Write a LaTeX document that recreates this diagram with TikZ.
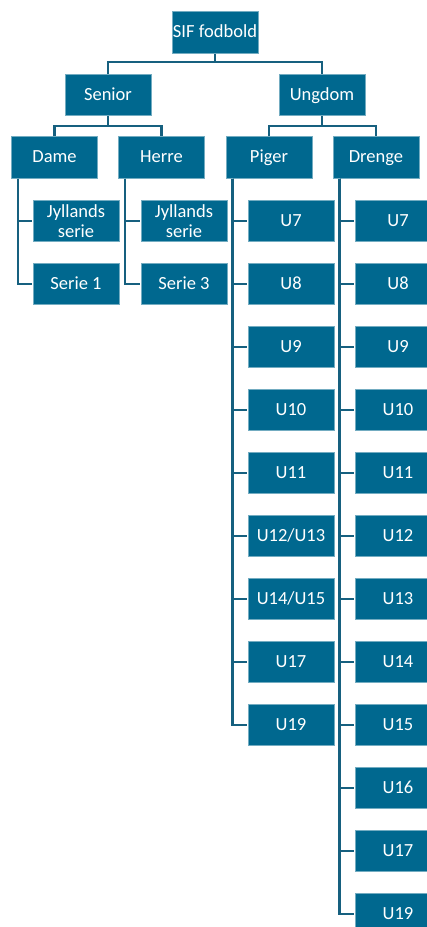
\documentclass[tikz,border=0pt]{standalone}
\usepackage{fontspec}
\setmainfont{Carlito}
\definecolor{boxc}{RGB}{0,104,143}
\definecolor{linec}{RGB}{22,96,127}
\begin{document}
\begin{tikzpicture}[x=1pt,y=-1pt,
  orgbase/.style={rectangle, fill=boxc, draw=boxc!55!white, line width=0.6pt,
    minimum width=86pt, minimum height=41.5pt, inner sep=0pt, text=white,
    font=\fontsize{18.5}{19.5}\selectfont, align=center},
  orgbox/.style={orgbase, text height=13pt, text depth=2.5pt},
  conn/.style={draw=linec, line width=2.5pt}]
\useasboundingbox (0,0) rectangle (427,927);
\node[orgbox] (sif) at (215,32.5) {SIF fodbold};
\node[orgbox] (senior) at (108,95) {Senior};
\node[orgbox] (ungdom) at (322,95) {Ungdom};
\node[orgbox] (dame) at (54.5,157.5) {Dame};
\node[orgbox] (herre) at (161.5,157.5) {Herre};
\node[orgbox] (piger) at (269,157.5) {Piger};
\node[orgbox] (drenge) at (376,157.5) {Drenge};
% level connectors
\draw[conn] (sif.south) -- ++(0,9);
\draw[conn] (senior.north) -- ++(0,-12) -| (ungdom.north);
\draw[conn] (senior.south) -- ++(0,10.5);
\draw[conn] (dame.north) -- ++(0,-10.5) -| (herre.north);
\draw[conn] (ungdom.south) -- ++(0,10.5);
\draw[conn] (piger.north) -- ++(0,-10.5) -| (drenge.north);
% Dame
\node[orgbase] (dj) at (76,221) {Jyllands\\serie};
\node[orgbox] (ds) at (76,284) {Serie 1};
\foreach \c in {dj,ds} \draw[conn] ([xshift=7pt]dame.south west) |- ([xshift=-1pt]\c.west);
% Herre
\node[orgbase] (hj) at (184,221) {Jyllands\\serie};
\node[orgbox] (hs) at (184,284) {Serie 3};
\foreach \c in {hj,hs} \draw[conn] ([xshift=7pt]herre.south west) |- ([xshift=-1pt]\c.west);
% Piger
\foreach \t [count=\i from 0] in {U7,U8,U9,U10,U11,U12/U13,U14/U15,U17,U19}{
  \node[orgbox] (p\i) at (291,221+63*\i) {\t};
  \draw[conn] ([xshift=7pt]piger.south west) |- ([xshift=-1pt]p\i.west);
}
% Drenge
\foreach \t [count=\i from 0] in {U7,U8,U9,U10,U11,U12,U13,U14,U15,U16,U17,U19}{
  \node[orgbox] (d\i) at (398,221+63*\i) {\t};
  \draw[conn] ([xshift=7pt]drenge.south west) |- ([xshift=-1pt]d\i.west);
}
\end{tikzpicture}
\end{document}
